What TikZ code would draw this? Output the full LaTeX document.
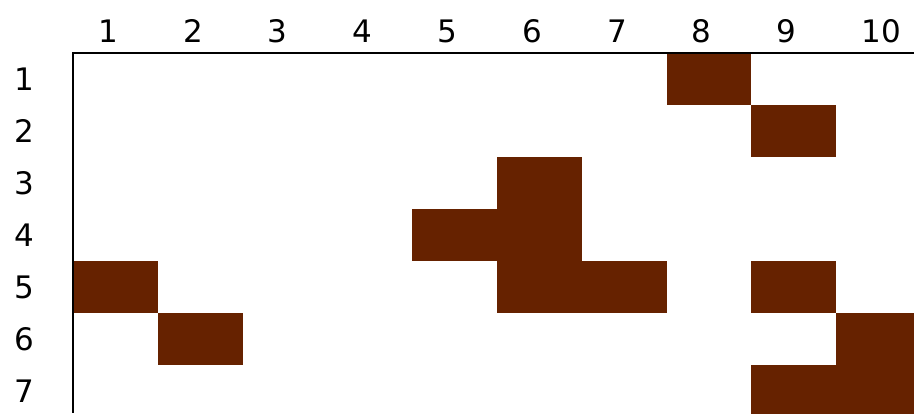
\documentclass[tikz,border=0pt]{standalone}
\usepackage{fontspec}
\setmainfont{DejaVu Sans}
\definecolor{cellbrown}{RGB}{102,34,0}
\begin{document}
\begin{tikzpicture}[x=1pt,y=-1pt,
  cell/.style={fill=cellbrown,draw=none},
  collabel/.style={anchor=west,inner sep=0pt,font=\fontsize{31}{31}\selectfont},
  rowlabel/.style={anchor=center,inner sep=0pt,font=\fontsize{31}{31}\selectfont},
  frame/.style={line width=2pt,black}]
\useasboundingbox (0,0) rectangle (914,413);
\clip (0,0) rectangle (914,413);
\fill[white] (0,0) rectangle (914,413);
\pgfmathsetmacro{\cw}{84.8}
\pgfmathsetmacro{\rh}{52}
% filled cells (row, col)
\foreach \r/\c in {1/8,2/9,3/6,4/5,4/6,5/1,5/6,5/7,5/9,6/2,6/10,7/9,7/10}{
  \path[cell] ({73+(\c-1)*\cw},{53+(\r-1)*\rh}) rectangle ({73+\c*\cw},{53+\r*\rh});
}
% frame
\coordinate (fo) at (73,53);
\coordinate (fr) at (914,53);
\coordinate (fb) at (73,413);
\draw[frame] (fr) -- (fo) -- (fb);
% column labels
\foreach \c in {1,...,10}{
  \node[collabel] (col\c) at ({73+(\c-1)*\cw+25},31) {\c};
}
% row labels
\foreach \r in {1,...,7}{
  \node[rowlabel] (row\r) at (24,{53+(\r-0.5)*\rh}) {\r};
}
\end{tikzpicture}
\end{document}
